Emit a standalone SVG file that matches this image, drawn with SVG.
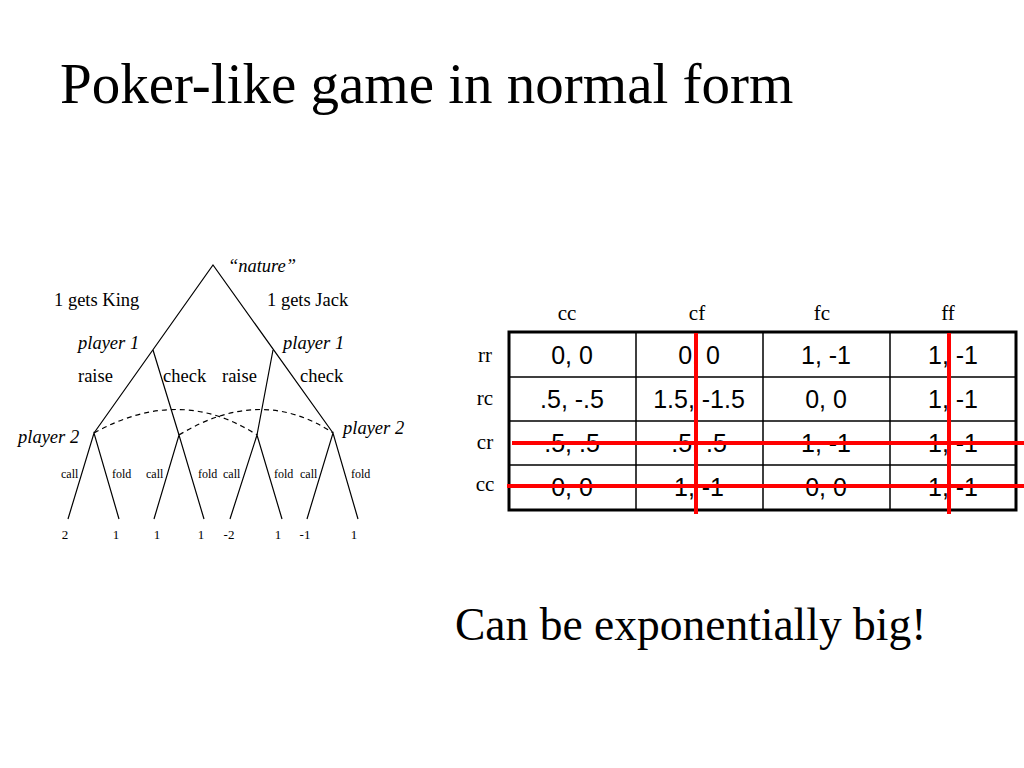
<svg xmlns="http://www.w3.org/2000/svg" width="1024" height="768" viewBox="0 0 1024 768">
<style>
.t{font-family:"Liberation Serif",serif;fill:#000}
.i{font-style:italic}
.a{font-family:"Liberation Sans",sans-serif;font-size:25px;text-anchor:middle}
.l{stroke:#000;stroke-width:1.2;fill:none}
.d{stroke:#000;stroke-width:1.2;fill:none;stroke-dasharray:5,4}
.r{stroke:#f00;stroke-width:4}
.g{stroke:#000;stroke-width:1.5}
</style>
<rect width="1024" height="768" fill="#fff"/>
<text class="t" x="60" y="103" font-size="57">Poker-like game in normal form</text>
<g id="tree">
<g id="connectors">
<path class="l" d="M94,433 L213,265 L333,433"/>
<path class="l" d="M153,350 L179,435 M273,350 L257,435"/>
<path class="l" d="M68,519 L94,433 L119,519 M154,519 L179,435 L204,519 M230,519 L257,435 L282,519 M307,519 L333,433 L358,519"/>
<path class="d" d="M94,433 Q180,385 257,435"/>
<path class="d" d="M179,435 Q261,385 333,433"/>
</g>
<g font-size="18.5">
<text class="t i" x="262" y="272" text-anchor="middle">“nature”</text>
<text class="t" x="54" y="306">1 gets King</text>
<text class="t" x="267" y="306">1 gets Jack</text>
<text class="t i" x="78" y="349">player 1</text>
<text class="t i" x="283" y="349">player 1</text>
<text class="t" x="78" y="382">raise</text>
<text class="t" x="163" y="382">check</text>
<text class="t" x="222" y="382">raise</text>
<text class="t" x="300" y="382">check</text>
<text class="t i" x="18" y="443">player 2</text>
<text class="t i" x="343" y="434">player 2</text>
</g>
<g font-size="12">
<text class="t" x="61" y="478">call</text><text class="t" x="112" y="478">fold</text>
<text class="t" x="146" y="478">call</text><text class="t" x="198" y="478">fold</text>
<text class="t" x="223" y="478">call</text><text class="t" x="274" y="478">fold</text>
<text class="t" x="300" y="478">call</text><text class="t" x="351" y="478">fold</text>
</g>
<g font-size="13" text-anchor="middle">
<text class="t" x="65" y="539">2</text><text class="t" x="116" y="539">1</text>
<text class="t" x="157" y="539">1</text><text class="t" x="201" y="539">1</text>
<text class="t" x="229" y="539">-2</text><text class="t" x="278" y="539">1</text>
<text class="t" x="305" y="539">-1</text><text class="t" x="354" y="539">1</text>
</g>
</g>
<g id="table">
<g font-size="21" text-anchor="middle">
<text class="t" x="567" y="320">cc</text><text class="t" x="697" y="320">cf</text>
<text class="t" x="822" y="320">fc</text><text class="t" x="948" y="320">ff</text>
<text class="t" x="485" y="362">rr</text><text class="t" x="485" y="405">rc</text>
<text class="t" x="485" y="449">cr</text><text class="t" x="485" y="491">cc</text>
</g>
<rect x="509" y="332" width="507" height="178" fill="none" stroke="#000" stroke-width="3"/>
<path class="g" d="M636,332V510 M763,332V510 M890,332V510 M509,377H1016 M509,421H1016 M509,465H1016"/>
<g class="a">
<text x="572" y="364">0, 0</text><text x="699" y="364">0, 0</text><text x="826" y="364">1, -1</text><text x="953" y="364">1, -1</text>
<text x="572" y="408">.5, -.5</text><text x="699" y="408">1.5, -1.5</text><text x="826" y="408">0, 0</text><text x="953" y="408">1, -1</text>
<text x="572" y="452">.5, .5</text><text x="699" y="452">.5, .5</text><text x="826" y="452">1, -1</text><text x="953" y="452">1, -1</text>
<text x="572" y="496">0, 0</text><text x="699" y="496">1, -1</text><text x="826" y="496">0, 0</text><text x="953" y="496">1, -1</text>
</g>
<path class="r" d="M512,443H1024 M507,486H1024 M696,333V514 M949,333V514"/>
</g>
<text class="t" x="455" y="640" font-size="45.5">Can be exponentially big!</text>
</svg>
